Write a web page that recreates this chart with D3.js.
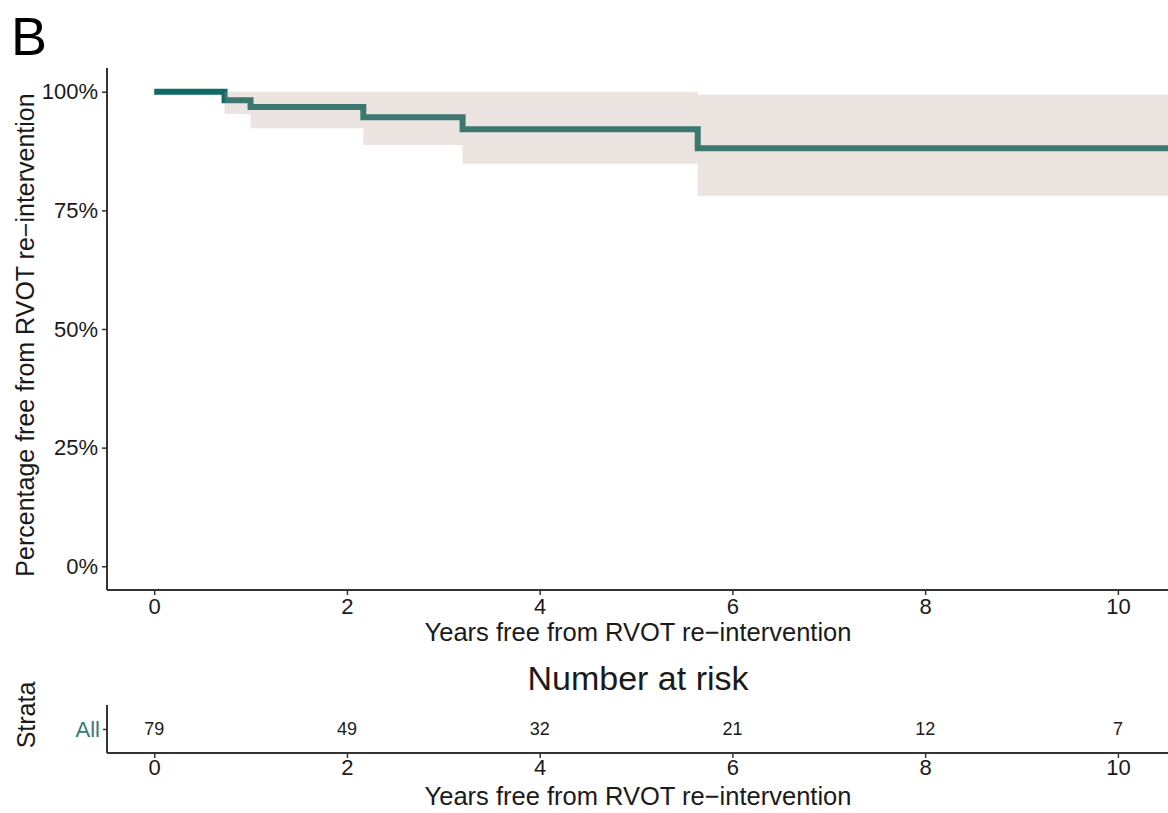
<!DOCTYPE html>
<html>
<head>
<meta charset="utf-8">
<title>RVOT re-intervention</title>
<script src="https://d3js.org/d3.v7.min.js"></script>
<style>
  body { margin: 0; background: #fff; }
  text { font-family: "Liberation Sans", Arial, sans-serif; }
</style>
</head>
<body>
<div id="chart"></div>
<script>
// Kaplan-Meier estimate
var times = [0, 0.73, 1.0, 2.17, 3.2, 5.64, 10.6];
var surv  = [1.0, 0.982, 0.968, 0.946, 0.921, 0.881, 0.881];
var upper = [1.0, 1.0, 1.0, 1.0, 1.0, 0.994, 0.994];
var lower = [1.0, 0.953, 0.923, 0.888, 0.848, 0.781, 0.781];

// number at risk table
var riskTimes = [0, 2, 4, 6, 8, 10];
var riskN = [79, 49, 32, 21, 12, 7];

var xTicks = [0, 2, 4, 6, 8, 10];
var yTicks = [0, 0.25, 0.5, 0.75, 1];

var W = 1168, H = 813;
var left = 107, right = 1168;
var top1 = 68, bottom1 = 590;
var top2 = 705, bottom2 = 753;
var lineCol = "#0f6a64", axisCol = "#333333", textCol = "#1a1a1a";
var tickFont = "22px";

var svg = d3.select("#chart").append("svg")
    .attr("width", W)
    .attr("height", H);

var x = d3.scaleLinear().domain([-0.49, 10.52]).range([left, right]);
var y = d3.scaleLinear().domain([-0.05, 1.05]).range([bottom1, top1]);

// panel label
svg.append("text")
    .attr("x", 11).attr("y", 55)
    .style("font-size", "54px")
    .style("fill", "#000")
    .text("B");

// clip for the curve
svg.append("clipPath").attr("id", "clip")
    .append("rect")
    .attr("x", left).attr("y", top1)
    .attr("width", right - left).attr("height", bottom1 - top1);

var km = times.map(function (t, i) { return { t: t, s: surv[i], lo: lower[i], hi: upper[i] }; });

var plot = svg.append("g").attr("clip-path", "url(#clip)");

// survival line
var line = d3.line()
    .x(function (d) { return x(d.t); })
    .y(function (d) { return y(d.s); })
    .curve(d3.curveStepAfter);

plot.append("path")
    .datum(km)
    .attr("d", line)
    .attr("fill", "none")
    .attr("stroke", lineCol)
    .attr("stroke-width", 6);

// confidence band, drawn over the line with transparency
var band = d3.area()
    .x(function (d) { return x(d.t); })
    .y0(function (d) { return y(d.lo); })
    .y1(function (d) { return y(d.hi); })
    .curve(d3.curveStepAfter);

plot.append("path")
    .datum(km)
    .attr("d", band)
    .attr("fill", "rgb(185,155,144)")
    .attr("fill-opacity", 0.27);

// axes of the main plot
var yAxis = svg.append("g")
    .attr("transform", "translate(" + left + ",0)")
    .call(d3.axisLeft(y).tickValues(yTicks).tickFormat(d3.format(".0%")).tickSizeOuter(0).tickSize(5).tickPadding(4));

var xAxis = svg.append("g")
    .attr("transform", "translate(0," + bottom1 + ")")
    .call(d3.axisBottom(x).tickValues(xTicks).tickSizeOuter(0).tickSize(5).tickPadding(3));

[yAxis, xAxis].forEach(function (a) {
    a.select(".domain").attr("stroke", axisCol).attr("stroke-width", 2);
    a.selectAll(".tick line").attr("stroke", axisCol).attr("stroke-width", 1.5);
    a.selectAll(".tick text").style("font-size", tickFont).style("fill", textCol)
        .style("font-family", "'Liberation Sans', Arial, sans-serif");
});
yAxis.select(".domain").attr("d", "M0," + top1 + "V" + bottom1);
xAxis.select(".domain").attr("d", "M" + left + ",0H" + right);

svg.append("text")
    .attr("transform", "translate(34," + ((top1 + bottom1) / 2 + 6) + ") rotate(-90)")
    .attr("text-anchor", "middle")
    .style("font-size", "25px")
    .style("fill", textCol)
    .text("Percentage free from RVOT re\u2212intervention");

svg.append("text")
    .attr("x", 638).attr("y", 641)
    .attr("text-anchor", "middle")
    .style("font-size", "25.5px")
    .style("fill", textCol)
    .text("Years free from RVOT re\u2212intervention");

// number at risk table
svg.append("text")
    .attr("x", 638).attr("y", 690)
    .attr("text-anchor", "middle")
    .style("font-size", "34px")
    .style("fill", textCol)
    .text("Number at risk");

var rowY = d3.scalePoint().domain(["All"]).range([top2, bottom2]).padding(0.5);

var rAxisY = svg.append("g")
    .attr("transform", "translate(" + left + ",0)")
    .call(d3.axisLeft(rowY).tickSizeOuter(0).tickSize(4).tickPadding(3));
rAxisY.select(".domain").attr("stroke", axisCol).attr("stroke-width", 2)
    .attr("d", "M0," + top2 + "V" + bottom2);
rAxisY.selectAll(".tick line").attr("stroke", axisCol).attr("stroke-width", 1.5);
rAxisY.selectAll(".tick text").style("font-size", "22px").style("fill", "#3a7a75")
    .style("font-family", "'Liberation Sans', Arial, sans-serif");

var rAxisX = svg.append("g")
    .attr("transform", "translate(0," + bottom2 + ")")
    .call(d3.axisBottom(x).tickValues(xTicks).tickSizeOuter(0).tickSize(5).tickPadding(1));
rAxisX.select(".domain").attr("stroke", axisCol).attr("stroke-width", 2)
    .attr("d", "M" + left + ",0H" + right);
rAxisX.selectAll(".tick line").attr("stroke", axisCol).attr("stroke-width", 1.5);
rAxisX.selectAll(".tick text").style("font-size", tickFont).style("fill", textCol)
    .style("font-family", "'Liberation Sans', Arial, sans-serif");

svg.append("g").selectAll("text")
    .data(riskTimes)
    .enter()
    .append("text")
    .attr("x", function (d) { return x(d); })
    .attr("y", rowY("All"))
    .attr("dy", "0.35em")
    .attr("text-anchor", "middle")
    .style("font-size", "18px")
    .style("fill", textCol)
    .text(function (d, i) { return riskN[i]; });

svg.append("text")
    .attr("transform", "translate(35," + ((top2 + bottom2) / 2 - 14) + ") rotate(-90)")
    .attr("text-anchor", "middle")
    .style("font-size", "25px")
    .style("fill", textCol)
    .text("Strata");

svg.append("text")
    .attr("x", 638).attr("y", 805)
    .attr("text-anchor", "middle")
    .style("font-size", "25.5px")
    .style("fill", textCol)
    .text("Years free from RVOT re\u2212intervention");
</script>
</body>
</html>
